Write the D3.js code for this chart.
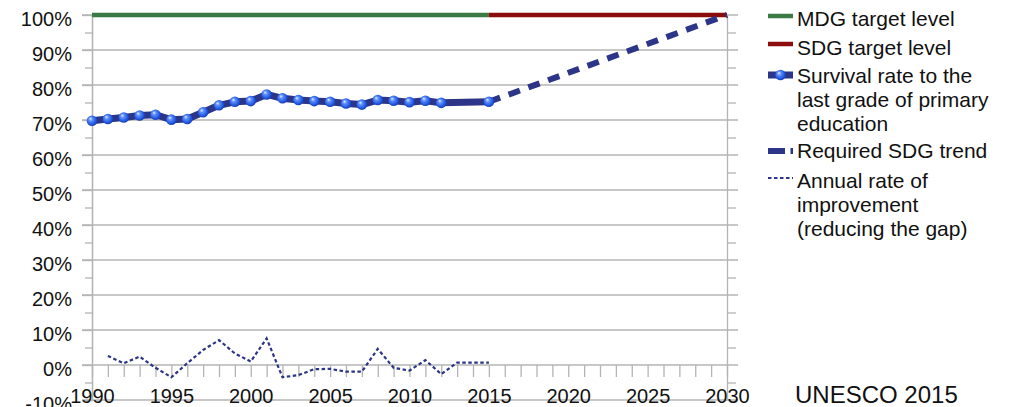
<!DOCTYPE html>
<html>
<head>
<meta charset="utf-8">
<script src="https://cdn.jsdelivr.net/npm/d3@7"></script>
<style>
html,body{margin:0;padding:0;background:#fff;}
svg{display:block;font-family:"Liberation Sans",Arial,sans-serif;}
</style>
</head>
<body>
<svg id="chart" width="1011" height="407"></svg>
<script>
// ---- data ----
const survivalYears = [1990,1991,1992,1993,1994,1995,1996,1997,1998,1999,2000,2001,2002,2003,2004,2005,2006,2007,2008,2009,2010,2011,2012,2015];
const survivalRate  = [0.698,0.703,0.707,0.713,0.715,0.701,0.703,0.722,0.742,0.752,0.754,0.773,0.762,0.757,0.754,0.752,0.747,0.744,0.757,0.755,0.751,0.755,0.749,0.752];
const improvementYears = [1991,1992,1993,1994,1995,1996,1997,1998,1999,2000,2001,2002,2003,2004,2005,2006,2007,2008,2009,2010,2011,2012,2013,2014,2015];
const improvementRate  = [0.026,0.005,0.024,-0.008,-0.035,0.005,0.043,0.071,0.033,0.010,0.076,-0.035,-0.029,-0.012,-0.011,-0.019,-0.019,0.046,-0.008,-0.016,0.014,-0.026,0.007,0.007,0.007];
const mdgTarget = [[1990,1.0],[2015,1.0]];
const sdgTarget = [[2015,1.0],[2030,1.0]];
const sdgTrend  = [[2015,0.752],[2030,1.0]];
const yMajorTicks = [-0.1,0,0.1,0.2,0.3,0.4,0.5,0.6,0.7,0.8,0.9,1.0];
const yMinorTicks = [-0.05,0.05,0.15,0.25,0.35,0.45,0.55,0.65,0.75,0.85,0.95];
const xTickYears = d3.range(1990,2031);
const legendLabels = [
  ["MDG target level"],
  ["SDG target level"],
  ["Survival rate to the","last grade of primary","education"],
  ["Required SDG trend"],
  ["Annual rate of","improvement","(reducing the gap)"]
];
const sourceNote = "UNESCO 2015";

// ---- drawing ----
const svg = d3.select("#chart");
const x = d3.scaleLinear().domain([1990,2030]).range([92,727]);
const y = d3.scaleLinear().domain([-0.1,1.0]).range([400,15]);
const grid = "#b4b4b4";
const navy = "#2c3587";

const defs = svg.append("defs");
const grad = defs.append("radialGradient").attr("id","ball").attr("cx","45%").attr("cy","45%").attr("r","60%").attr("fx","35%").attr("fy","30%");
grad.append("stop").attr("offset","0%").attr("stop-color","#e4eeff");
grad.append("stop").attr("offset","30%").attr("stop-color","#5e90ff");
grad.append("stop").attr("offset","75%").attr("stop-color","#1f55e0");
grad.append("stop").attr("offset","100%").attr("stop-color","#173a9e");

// gridlines
svg.append("g").selectAll("line").data(yMajorTicks).join("line")
  .attr("x1",82).attr("x2",738)
  .attr("y1",d=>y(d)).attr("y2",d=>y(d))
  .attr("stroke",grid).attr("stroke-width",1.3);

// right side axis + minor ticks
const rightAxis = d3.axisRight(y).tickValues(yMinorTicks).tickSize(9).tickSizeOuter(0).tickFormat("");
const rg = svg.append("g").attr("transform",`translate(${x(2030)},0)`).call(rightAxis);
rg.selectAll("path,line").attr("stroke",grid).attr("stroke-width",1.3);

// left axis minor ticks
const leftMinor = d3.axisLeft(y).tickValues(yMinorTicks).tickSize(7).tickSizeOuter(0).tickFormat("");
const lmg = svg.append("g").attr("transform",`translate(${x(1990)},0)`).call(leftMinor);
lmg.selectAll("path,line").attr("stroke",grid).attr("stroke-width",1.3);

// left axis with labels
const leftAxis = d3.axisLeft(y).tickValues(yMajorTicks).tickSize(10).tickSizeOuter(0).tickPadding(10)
  .tickFormat(d=>Math.round(d*100)+"%");
const lg = svg.append("g").attr("transform",`translate(${x(1990)},0)`).call(leftAxis);
lg.selectAll("path,line").attr("stroke",grid).attr("stroke-width",1.3);
lg.selectAll("text").attr("font-size",20).attr("fill","#111").attr("dy","0.5em")
  .attr("font-family","Liberation Sans, Arial, sans-serif");

// bottom axis at 0%
const bottomAxis = d3.axisBottom(x).tickValues(xTickYears).tickSize(12).tickSizeOuter(0).tickPadding(12)
  .tickFormat(d=> d%5===0 ? String(d) : "");
const bg = svg.append("g").attr("transform",`translate(0,${y(0)})`).call(bottomAxis);
bg.select(".domain").remove();
bg.selectAll("line").attr("stroke",grid).attr("stroke-width",1.3);
bg.selectAll("text").attr("font-size",20).attr("fill","#111")
  .attr("font-family","Liberation Sans, Arial, sans-serif");

const line = d3.line().x(d=>x(d[0])).y(d=>y(d[1]));

// target lines
svg.append("path").attr("d",line(mdgTarget)).attr("fill","none").attr("stroke","#3b7a45").attr("stroke-width",4.5);
svg.append("path").attr("d",line(sdgTarget)).attr("fill","none").attr("stroke","#8c0b0b").attr("stroke-width",4.5);

// required trend
svg.append("path").attr("d",line(sdgTrend)).attr("fill","none").attr("stroke",navy)
  .attr("stroke-width",6).attr("stroke-dasharray","12,9");

// annual improvement
const impData = improvementYears.map((yr,i)=>[yr,improvementRate[i]]);
svg.append("path").attr("d",line(impData)).attr("fill","none").attr("stroke",navy)
  .attr("stroke-width",2.2).attr("stroke-dasharray","3.5,2.5");

// survival
const survData = survivalYears.map((yr,i)=>[yr,survivalRate[i]]);
svg.append("path").attr("d",line(survData)).attr("fill","none").attr("stroke",navy)
  .attr("stroke-width",7).attr("stroke-linejoin","round");
svg.append("g").selectAll("circle").data(survData).join("circle")
  .attr("cx",d=>x(d[0])).attr("cy",d=>y(d[1])).attr("r",5.3).attr("fill","url(#ball)");

// legend
const lx0 = 768, lx1 = 793, tx = 797;
const symY = [16,44,75,151,178];
const firstBase = [26,55,83,158,188];
const leg = svg.append("g");
legendLabels.forEach((lines,i)=>{
  const t = leg.append("text").attr("x",tx).attr("y",firstBase[i]).attr("font-size",21).attr("fill","#111");
  lines.forEach((s,j)=>t.append("tspan").attr("x",tx).attr("dy",j===0?0:24).text(s));
});
leg.append("line").attr("x1",lx0).attr("x2",lx1).attr("y1",symY[0]).attr("y2",symY[0]).attr("stroke","#3b7a45").attr("stroke-width",4.5);
leg.append("line").attr("x1",lx0).attr("x2",lx1).attr("y1",symY[1]).attr("y2",symY[1]).attr("stroke","#8c0b0b").attr("stroke-width",4.5);
leg.append("line").attr("x1",lx0).attr("x2",lx1).attr("y1",symY[2]).attr("y2",symY[2]).attr("stroke",navy).attr("stroke-width",7);
leg.append("circle").attr("cx",(lx0+lx1)/2).attr("cy",symY[2]).attr("r",5.3).attr("fill","url(#ball)");
leg.append("line").attr("x1",lx0).attr("x2",lx1).attr("y1",symY[3]).attr("y2",symY[3]).attr("stroke",navy).attr("stroke-width",6).attr("stroke-dasharray","17,5.5");
leg.append("line").attr("x1",lx0).attr("x2",lx1).attr("y1",symY[4]).attr("y2",symY[4]).attr("stroke",navy).attr("stroke-width",2.2).attr("stroke-dasharray","3.5,2.5");

// source note
svg.append("text").attr("x",795).attr("y",403).attr("font-size",24).attr("fill","#111").text(sourceNote);
</script>
</body>
</html>
